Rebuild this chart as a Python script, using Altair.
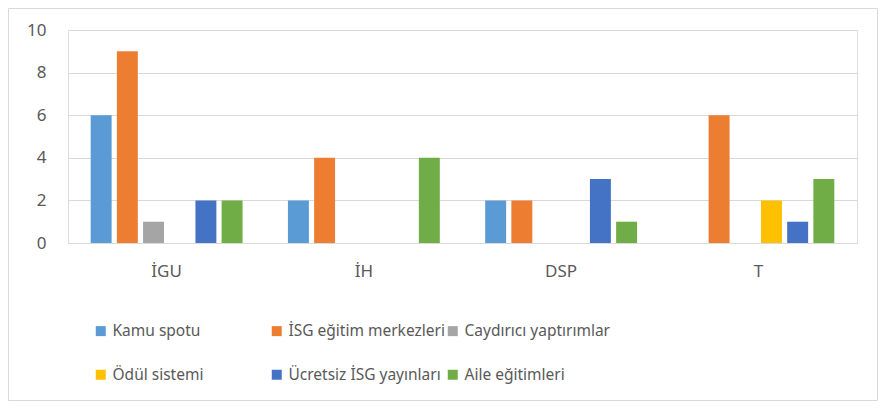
import altair as alt
import pandas as pd

categories = ["İGU", "İH", "DSP", "T"]
series = ["Kamu spotu", "İSG eğitim merkezleri", "Caydırıcı yaptırımlar",
          "Ödül sistemi", "Ücretsiz İSG yayınları", "Aile eğitimleri"]
colors = ["#5B9BD5", "#ED7D31", "#A5A5A5", "#FFC000", "#4472C4", "#70AD47"]
values = {
    "Kamu spotu":             [6, 2, 2, 0],
    "İSG eğitim merkezleri":  [9, 4, 2, 6],
    "Caydırıcı yaptırımlar":  [1, 0, 0, 0],
    "Ödül sistemi":           [0, 0, 0, 2],
    "Ücretsiz İSG yayınları": [2, 0, 3, 1],
    "Aile eğitimleri":        [2, 4, 1, 3],
}
y_ticks = [0, 2, 4, 6, 8, 10]

rows = []
for s in series:
    for c, v in zip(categories, values[s]):
        rows.append({"cat": c, "series": s, "value": v})
df = pd.DataFrame(rows)

FONT = "Noto Sans"
TXT = "#595959"
W, H = 789, 213

bars = alt.Chart(df).mark_bar().encode(
    x=alt.X("cat:N", sort=categories,
            scale=alt.Scale(paddingInner=0.23, paddingOuter=0.115),
            axis=alt.Axis(title=None, labelAngle=0, domain=False, ticks=False,
                          labelPadding=20, labelFontSize=17, labelColor=TXT,
                          labelFont=FONT, grid=False)),
    xOffset=alt.XOffset("series:N", sort=series,
                        scale=alt.Scale(paddingInner=0.2, paddingOuter=0)),
    y=alt.Y("value:Q", scale=alt.Scale(domain=[0, 10], nice=False),
            axis=alt.Axis(title=None, values=y_ticks, domain=False, ticks=False,
                          labelPadding=22, labelFontSize=17, labelColor=TXT,
                          labelFont=FONT, gridColor="#D9D9D9", gridWidth=1)),
    color=alt.Color("series:N", sort=series,
                    scale=alt.Scale(domain=series, range=colors),
                    legend=alt.Legend(title=None, orient="none", legendX=25, legendY=293,
                                      direction="horizontal",
                                      columns=3, gridAlign="all", columnPadding=0,
                                      rowPadding=27, symbolType="square",
                                      symbolSize=100, symbolStrokeWidth=0,
                                      labelFontSize=15.5, labelColor=TXT,
                                      labelFont=FONT, labelOffset=4, labelLimit=300)),
)

border = alt.Chart(pd.DataFrame({"a": [0]})).mark_rect(
    fill=None, stroke="#D9D9D9", strokeWidth=1, clip=False
).encode(x=alt.value(-59.5), x2=alt.value(W + 20.5), y=alt.value(-21.5), y2=alt.value(H + 157.5))

chart = alt.layer(bars, border).properties(
    width=W, height=H,
    autosize=alt.AutoSizeParams(type="none"),
    padding={"left": 60, "top": 22, "right": 21, "bottom": 158},
).configure_view(stroke=None).configure(background="white")

chart.save("out.html", embed_options={"renderer": "svg", "actions": False})
